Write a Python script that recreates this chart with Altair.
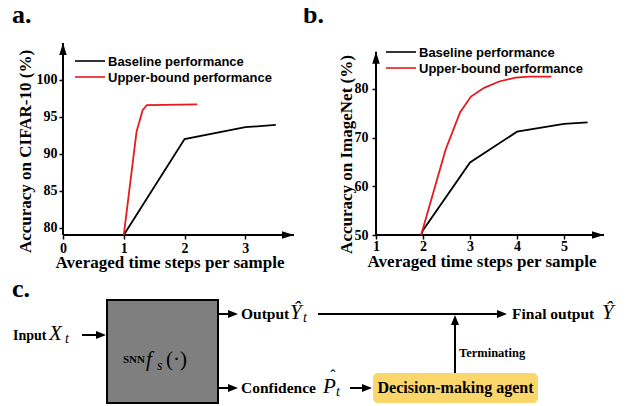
import altair as alt
import pandas as pd

SERIF = "Liberation Serif"
SANS = "Liberation Sans"

# ---------------- data ----------------
series = ["Baseline performance", "Upper-bound performance"]
series_colors = ["#000000", "#e5191e"]

# panel a: CIFAR-10
a_base_steps = [1.0, 2.0, 3.0, 3.5]
a_base_acc = [79.0, 92.0, 93.6, 93.9]
a_up_steps = [1.0, 1.21, 1.31, 1.38, 2.21]
a_up_acc = [79.0, 93.0, 95.9, 96.6, 96.7]

# panel b: ImageNet
b_base_steps = [1.96, 2.0, 3.0, 4.0, 5.0, 5.5]
b_base_acc = [50.0, 51.0, 64.9, 71.2, 72.8, 73.1]
b_up_steps = [1.96, 2.48, 2.79, 3.02, 3.30, 3.62, 3.97, 4.25, 4.73]
b_up_acc = [50.0, 67.5, 75.2, 78.4, 80.2, 81.5, 82.3, 82.5, 82.5]

a_xticks = [0, 1, 2, 3]
a_yticks = [80, 85, 90, 95, 100]
b_xticks = [1, 2, 3, 4, 5]
b_yticks = [50, 60, 70, 80]
x_title = "Averaged time steps per sample"
a_y_title = "Accuracy on CIFAR-10 (%)"
b_y_title = "Accuracy on ImageNet (%)"

# diagram (panel c) texts
c_plain_text = ["Input", "Output", "Final output", "Confidence"]
c_math_big = ["X", "Ŷ", "Ŷ", "P", "f"]
c_math_sub = ["t", "t", "t", "s"]
# ---------------------------------------

UP = "M0,0L0.62,2L-0.62,2Z"
RIGHT = "M0,0L-2,-0.62L-2,0.62Z"
UP_W = "M0,0L0.8,2L-0.8,2Z"
RIGHT_W = "M0,0L-2,-0.8L-2,0.8Z"
COLOR_SCALE = alt.Scale(domain=series, range=series_colors)


def series_df(xs_list, ys_list):
    rows = []
    for name, xs, ys in zip(series, xs_list, ys_list):
        for i, (x, y) in enumerate(zip(xs, ys)):
            rows.append({"series": name, "x": x, "y": y, "i": i})
    return pd.DataFrame(rows)


def panel(df, xdom, ydom, ytop, xticks, yticks, ytitle, tag, tag_x,
          leg_x, leg_y, xt_x, xt_y, yt_x, yt_y, w, h, xlab_pad, ylab_pad):
    xenc = alt.X(
        "x:Q",
        scale=alt.Scale(domain=xdom, nice=False, zero=False),
        axis=alt.Axis(
            values=xticks, format="d", domain=False, grid=False,
            tickSize=4, tickWidth=1.5, tickColor="black",
            labelFont=SERIF, labelFontSize=14, labelFontWeight="bold",
            labelColor="black", labelPadding=xlab_pad, labelFlush=False,
            title=x_title, titleFont=SERIF, titleFontSize=17,
            titleFontWeight="bold", titleColor="black",
            titleX=xt_x, titleY=xt_y, titleBaseline="alphabetic",
            titleAlign="center",
        ),
    )
    yenc = alt.Y(
        "y:Q",
        scale=alt.Scale(domain=ydom, nice=False, zero=False),
        axis=alt.Axis(
            values=yticks, format="d", domain=False, grid=False,
            tickSize=4, tickWidth=1.5, tickColor="black",
            labelFont=SERIF, labelFontSize=14, labelFontWeight="bold",
            labelColor="black", labelPadding=ylab_pad, labelFlush=False,
            title=ytitle, titleFont=SERIF, titleFontSize=17,
            titleFontWeight="bold", titleColor="black", titleAngle=270,
            titleX=yt_x, titleY=yt_y, titleBaseline="alphabetic",
            titleAlign="center",
        ),
    )
    axis_df = pd.DataFrame({
        "x": [xdom[0], xdom[0]], "y": [ydom[0], ydom[0]],
        "x2": [xdom[1], xdom[0]], "y2": [ydom[0], ytop],
    })
    axes = alt.Chart(axis_df).mark_rule(color="black", strokeWidth=2).encode(
        x=xenc, y=yenc, x2="x2:Q", y2="y2:Q")
    arr_r = alt.Chart(pd.DataFrame({"x": [xdom[1]], "y": [ydom[0]]})).mark_point(
        shape=RIGHT, filled=True, size=144, color="black", opacity=1,
        strokeWidth=0).encode(x=xenc, y=yenc)
    arr_u = alt.Chart(pd.DataFrame({"x": [xdom[0]], "y": [ytop]})).mark_point(
        shape=UP, filled=True, size=144, color="black", opacity=1,
        strokeWidth=0).encode(x=xenc, y=yenc)
    lines = alt.Chart(df).mark_line(strokeWidth=1.8).encode(
        x=xenc, y=yenc,
        color=alt.Color("series:N", scale=COLOR_SCALE, legend=None),
        order="i:Q",
    )
    # legend drawn inside the plot: one short stroke and one label per series
    legend_layers = []
    for k, name in enumerate(series):
        row = pd.DataFrame({"series": [name]})
        ypix = leg_y + 16 * k
        legend_layers.append(
            alt.Chart(row).mark_rule(strokeWidth=1.6).encode(
                x=alt.value(leg_x), x2=alt.value(leg_x + 30), y=alt.value(ypix),
                color=alt.Color("series:N", scale=COLOR_SCALE, legend=None)))
        legend_layers.append(
            alt.Chart(row).mark_text(
                font=SANS, fontWeight="bold", fontSize=13, align="left",
                baseline="middle", color="black").encode(
                text="series:N", x=alt.value(leg_x + 33), y=alt.value(ypix + 0.5)))
    tag_mark = alt.Chart(pd.DataFrame({"t": [tag]})).mark_text(
        font=SERIF, fontWeight="bold", fontSize=26, align="left",
        baseline="alphabetic", color="black").encode(
        text="t:N", x=alt.value(tag_x), y=alt.value(-19.7))
    return alt.layer(axes, arr_r, arr_u, lines, *legend_layers, tag_mark).properties(
        width=w, height=h)


pa = panel(series_df([a_base_steps, a_up_steps], [a_base_acc, a_up_acc]),
           [0, 3.8], [79, 105], 105, a_xticks, a_yticks, a_y_title, "a.", -51,
           12, 18, 106.5, 32, -33, 108, 231, 192, 2, 2)
pb = panel(series_df([b_base_steps, b_up_steps], [b_base_acc, b_up_acc]),
           [1, 5.85], [50, 89.4], 87.6, b_xticks, b_yticks, b_y_title, "b.", -73,
           10, 9, 105.5, 31, -25, 111, 228, 192, 0, 4)

# ---------------- panel c (diagram, in page pixel units) ----------------
cx = alt.X("x:Q", scale=alt.Scale(domain=[63, 618], nice=False, zero=False), axis=None)
cy = alt.Y("y:Q", scale=alt.Scale(domain=[280, 398], reverse=True, nice=False, zero=False), axis=None)
cx2 = alt.X2("x2:Q")
cy2 = alt.Y2("y2:Q")

frame = alt.Chart(pd.DataFrame({"x": [0], "x2": [619], "y": [0], "y2": [398]})).mark_rect(
    opacity=0).encode(x=cx, x2=cx2, y=cy, y2=cy2)
gray = alt.Chart(pd.DataFrame({"x": [107], "x2": [218], "y": [300], "y2": [403]})).mark_rect(
    fill="#7f7f7f", stroke="black", strokeWidth=2).encode(x=cx, x2=cx2, y=cy, y2=cy2)
yellow = alt.Chart(pd.DataFrame({"x": [373], "x2": [538], "y": [373], "y2": [403]})).mark_rect(
    fill="#fbd66a", cornerRadius=5).encode(x=cx, x2=cx2, y=cy, y2=cy2)
segs = alt.Chart(pd.DataFrame({
    "x": [82, 218, 318, 218, 350, 455],
    "y": [335, 314, 314, 388, 388, 373],
    "x2": [100, 232, 500, 232, 366, 455],
    "y2": [335, 314, 314, 388, 388, 322],
})).mark_rule(color="black", strokeWidth=2).encode(x=cx, x2=cx2, y=cy, y2=cy2)
heads_r = alt.Chart(pd.DataFrame({"x": [106, 238, 507, 238, 372], "y": [335, 314, 314, 388, 388]})).mark_point(
    shape=RIGHT_W, filled=True, size=100, color="black", opacity=1, strokeWidth=0).encode(x=cx, y=cy)
heads_u = alt.Chart(pd.DataFrame({"x": [455], "y": [315]})).mark_point(
    shape=UP_W, filled=True, size=100, color="black", opacity=1, strokeWidth=0).encode(x=cx, y=cy)

plain = alt.Chart(pd.DataFrame({"t": c_plain_text, "x": [13, 241, 512, 241], "y": [340, 319, 319, 393],
                                "s": [14, 15.5, 15.5, 15.5]})).mark_text(
    font=SERIF, fontWeight="bold", align="left", baseline="alphabetic", color="black"
).encode(x=cx, y=cy, text="t:N", size=alt.Size("s:Q", scale=None, legend=None))
agent = alt.Chart(pd.DataFrame({"t": ["Decision-making agent"], "x": [455.5], "y": [393]})).mark_text(
    font=SERIF, fontWeight="bold", fontSize=16, align="center", baseline="alphabetic", color="black"
).encode(x=cx, y=cy, text="t:N")
term = alt.Chart(pd.DataFrame({"t": ["Terminating"], "x": [459], "y": [357]})).mark_text(
    font=SERIF, fontWeight="bold", fontSize=12.5, align="left", baseline="alphabetic", color="black"
).encode(x=cx, y=cy, text="t:N")
snn = alt.Chart(pd.DataFrame({"t": ["SNN"], "x": [123], "y": [363]})).mark_text(
    font=SERIF, fontWeight="bold", fontSize=11, align="left", baseline="alphabetic", color="black"
).encode(x=cx, y=cy, text="t:N")
ctag = alt.Chart(pd.DataFrame({"t": ["c."], "x": [12], "y": [297]})).mark_text(
    font=SERIF, fontWeight="bold", fontSize=26, align="left", baseline="alphabetic", color="black"
).encode(x=cx, y=cy, text="t:N")
math_big = alt.Chart(pd.DataFrame({"t": c_math_big, "x": [49, 290, 602, 323, 146], "y": [340, 319, 319, 393, 366]})).mark_text(
    font=SERIF, fontStyle="italic", fontSize=21, align="left", baseline="alphabetic", color="black"
).encode(x=cx, y=cy, text="t:N")
math_sub = alt.Chart(pd.DataFrame({"t": c_math_sub, "x": [65, 303, 336, 157], "y": [343, 322, 396, 370]})).mark_text(
    font=SERIF, fontStyle="italic", fontSize=14, align="left", baseline="alphabetic", color="black"
).encode(x=cx, y=cy, text="t:N")
hat = alt.Chart(pd.DataFrame({"t": ["ˆ"], "x": [333], "y": [381]})).mark_text(
    font=SERIF, fontSize=16, align="center", baseline="alphabetic", color="black"
).encode(x=cx, y=cy, text="t:N")
paren = alt.Chart(pd.DataFrame({"t": ["(·)"], "x": [166], "y": [366]})).mark_text(
    font=SERIF, fontSize=21, align="left", baseline="alphabetic", color="black"
).encode(x=cx, y=cy, text="t:N")

pc = alt.layer(frame, gray, yellow, segs, heads_r, heads_u, plain, agent, term, snn,
               ctag, math_big, math_sub, hat, paren).properties(width=555, height=118)

top = alt.hconcat(pa, pb, spacing=82, bounds="flush").resolve_scale(
    x="independent", y="independent", color="independent")

# with flush bounds the nested row counts as zero height, so the spacing
# carries the row height (192) plus the gap (45)
chart = alt.vconcat(top, pc, spacing=237, bounds="flush",
                    padding={"left": -8, "top": -8, "right": 0, "bottom": 0}
                    ).configure_view(stroke=None)

chart.save("out.html", embed_options={"renderer": "svg", "actions": False})
